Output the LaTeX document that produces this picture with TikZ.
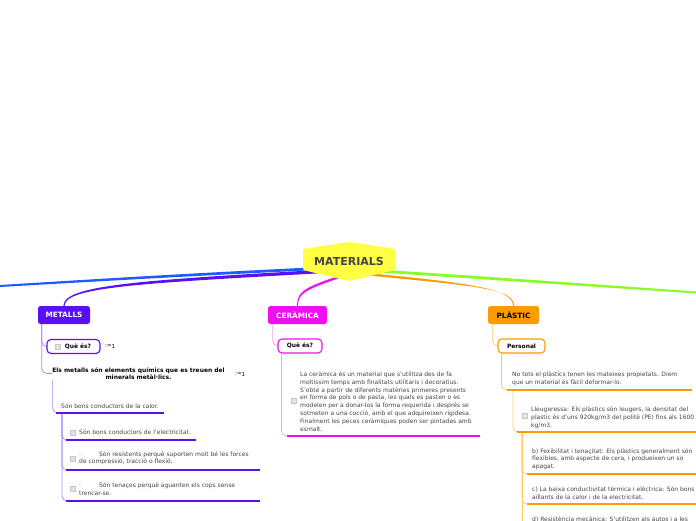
\documentclass[tikz,border=0pt]{standalone}
\usepackage{fontspec}
\setmainfont{DejaVu Sans}
\usetikzlibrary{backgrounds}
\definecolor{yel}{HTML}{FFFF44}
\definecolor{bluec}{HTML}{1D5BFF}
\definecolor{purp}{HTML}{5A10F5}
\definecolor{purpL}{HTML}{A884FF}
\definecolor{mag}{HTML}{EE10EE}
\definecolor{magL}{HTML}{F4A0F4}
\definecolor{orng}{HTML}{FF9A00}
\definecolor{orngL}{HTML}{FFC860}
\definecolor{grn}{HTML}{88FF22}
\definecolor{ink}{HTML}{444444}
\definecolor{chkg}{HTML}{E2E2E2}
\begin{document}
\begin{tikzpicture}[x=1pt,y=-1pt,
 topic/.style={rounded corners=2.5pt, minimum height=18pt, inner sep=0pt, font=\fontsize{7.3}{8}\selectfont\bfseries},
 subbox/.style={draw=#1, line width=1.1pt, fill=white, rounded corners=4pt, minimum height=14pt, inner sep=0pt, font=\fontsize{5.9}{7}\selectfont\bfseries},
 body/.style={font=\fontsize{6}{7.8}\selectfont, text=ink, align=left, inner sep=0pt, anchor=base west},
 chk/.style={draw=black!22, fill=chkg, minimum size=5pt, inner sep=0pt},
 ul/.style={line width=2.4pt, draw=#1},
 thinc/.style={line width=0.7pt, draw=#1, rounded corners=5pt},
 eqmark/.style={font=\fontsize{5.5}{6}\selectfont, text=black, inner sep=0pt, anchor=west}
]
\path[use as bounding box] (0,0) rectangle (696,520);
\clip (0,0) rectangle (696,520);

% central topic
\fill[yel, rounded corners=1.5pt] (303,249) -- (349,242) -- (395,249) -- (395,270) -- (349,281) -- (303,270) -- cycle;
\node[font=\fontsize{11}{12}\selectfont\bfseries, text=ink] (mat) at (349,261.5) {MATERIALS};

% main topics
\node[topic, fill=purp, text=white, minimum width=52pt] (met) at (64,315) {METALLS};
\node[topic, fill=mag, text=white, minimum width=59pt] (cer) at (297.5,315) {CERÀMICA};
\node[topic, fill=orng, text=black, minimum width=51pt] (pla) at (513.5,315) {PLÀSTIC};

% METALLS branch
\node[subbox=purp, minimum width=53pt, text=black] (mq) at (73.5,346.5) {\hspace{9pt}Què és?};
\node[chk] (mqc) at (58,346.5) {};
\node[eqmark] (mqe) at (105,346.5) {:=\raisebox{-1pt}{1}};
\node[font=\fontsize{5.95}{7.4}\selectfont\bfseries, align=center, inner sep=0pt] (mdef) at (138.5,373.5) {Els metalls són elements químics que es treuen del\\minerals metàl·lics.};
\node[eqmark] (mdefe) at (235,374) {:=\raisebox{-1pt}{1}};

\node[body] (m1) at (61,408) {Són bons conductors de la calor.};
\coordinate (m1a) at (56,413); \coordinate (m1b) at (164,413);
\node[chk] (m2c) at (73,432.5) {};
\node[body] (m2) at (79,434) {Són bons conductors de l'electricitat.};
\coordinate (m2a) at (66,440); \coordinate (m2b) at (196,440);
\node[chk] (m3c) at (73,458.5) {};
\node[body] (m3) at (79,463.8) {·\hspace{18pt}Són resistents perquè suporten molt bé les forces\\de compressió, tracció o flexió.};
\coordinate (m3a) at (66,470); \coordinate (m3b) at (260,470);
\node[chk] (m4c) at (73,489) {};
\node[body] (m4) at (79,495.3) {·\hspace{18pt}Són tenaços perquè aguanten els cops sense\\trencar-se.};
\coordinate (m4a) at (66,501); \coordinate (m4b) at (260,501);

% CERAMICA branch
\node[subbox=mag, minimum width=44pt] (cq) at (300,346) {Què és?};
\node[chk] (cc) at (294,400.5) {};
\node[body] (ct) at (300,431.1) {La ceràmica és un material que s'utilitza des de fa\\moltíssim temps amb finalitats utilitaris i decoratius.\\S'obté a partir de diferents matèries primeres presents\\en forma de pols o de pasta, les quals es pasten o es\\modelen per a donar-los la forma requerida i després se\\sotmeten a una cocció, amb el que adquireixen rigidesa.\\Finalment les peces ceràmiques poden ser pintades amb\\esmalt.};
\coordinate (ca) at (287,436); \coordinate (cb) at (480,436);

% PLASTIC branch
\node[subbox=orng, minimum width=47pt] (pq) at (521.5,346) {Personal};
\node[body] (p1) at (512,384.3) {No tots el plàstics tenen les mateixes propietats. Diem\\que un material és fàcil deformar-lo.};
\coordinate (pa) at (507,390); \coordinate (pb) at (692,390);
\node[chk] (p2c) at (524.5,416) {};
\node[body] (p2) at (531,427.1) {Lleugeressa: Els plàstics són leugers, la densitat del\\plastic és d'uns 920kg/m3 del politè (PE) fins als 1600\\kg/m3.};
\coordinate (p2a) at (517,432); \coordinate (p2b) at (696,432);
\node[body] (p3) at (532,468.6) {b) Fexibilitat i tenaçitat: Els plàstics generalment són\\flexibles, amb aspecte de cera, i produeixen un so\\apagat.};
\coordinate (p3a) at (527,474); \coordinate (p3b) at (696,474);
\node[body] (p4) at (532,499.3) {c) La baixa conductivitat tèrmica i elèctrica: Són bons\\aïllants de la calor i de la electricitat.};
\coordinate (p4a) at (527,504); \coordinate (p4b) at (696,504);
\node[body] (p5) at (532,521.5) {d) Resistència mecànica: S'utilitzen als autos i a les};

\begin{scope}[on background layer]
% main connectors (tapered)
\fill[bluec] (330,266.6) .. controls (200,272.6) and (100,278.8) .. (-5,285.3) -- (-5,287.3) .. controls (100,281.2) and (200,275.4) .. (330,269.4) -- cycle;
\fill[purp] (330,269.3) .. controls (140,280.3) and (63.4,285) .. ([xshift=-0.6pt]met.north) -- ([xshift=0.6pt]met.north) .. controls (64.6,287) and (140,283.3) .. (330,272.7) -- cycle;
\fill[mag] (345,273.8) .. controls (305,287) and (297,291) .. ([xshift=-0.5pt]cer.north) -- ([xshift=0.5pt]cer.north) .. controls (298,293) and (305.5,289.5) .. (345,276.2) -- cycle;
\fill[orng] (365,272.8) .. controls (480,283.8) and (513,290) .. ([xshift=-0.6pt]pla.north) -- ([xshift=0.6pt]pla.north) .. controls (514,289) and (480,286.2) .. (365,275.2) -- cycle;
\fill[grn] (380,269.6) .. controls (500,277.6) .. (701,291.8) -- (701,293.8) .. controls (500,280.4) .. (380,272.4) -- cycle;
% thin connectors
\draw[thinc=purpL] ([xshift=4pt]met.south west) |- (mq.west);
\draw[thinc=purpL] ([xshift=4pt]met.south west) |- (mdef.west);
\draw[thinc=purpL] ([xshift=0.5pt]mdef.south west) |- (m1a);
\draw[thinc=purpL] ([xshift=6pt]m1a) |- (m2a);
\draw[thinc=purpL] ([xshift=6pt]m1a) |- (m3a);
\draw[thinc=purpL] ([xshift=6pt]m1a) |- (m4a);
\draw[thinc=magL] ([xshift=5pt]cer.south west) |- (cq.west);
\draw[thinc=magL] ([xshift=4pt]cq.south west) |- (ca);
\draw[thinc=orngL] ([xshift=5pt]pla.south west) |- (pq.west);
\draw[thinc=orngL] ([xshift=4pt]pq.south west) |- (pa);
\draw[thinc=orngL] ([xshift=6pt]pa) |- (p2a);
\draw[thinc=orngL] ([xshift=5pt]p2a) |- (p3a);
\draw[thinc=orngL] ([xshift=5pt]p2a) |- (p4a);
\draw[thinc=orngL] ([xshift=5pt]p2a) -- ++(0,100);
% underlines
\draw[ul=purp] (m1a) -- (m1b);
\draw[ul=purp] (m2a) -- (m2b);
\draw[ul=purp] (m3a) -- (m3b);
\draw[ul=purp] (m4a) -- (m4b);
\draw[ul=mag] (ca) -- (cb);
\draw[ul=orng] (pa) -- (pb);
\draw[ul=orng] (p2a) -- (p2b);
\draw[ul=orng] (p3a) -- (p3b);
\draw[ul=orng] (p4a) -- (p4b);
\end{scope}
\end{tikzpicture}
\end{document}
